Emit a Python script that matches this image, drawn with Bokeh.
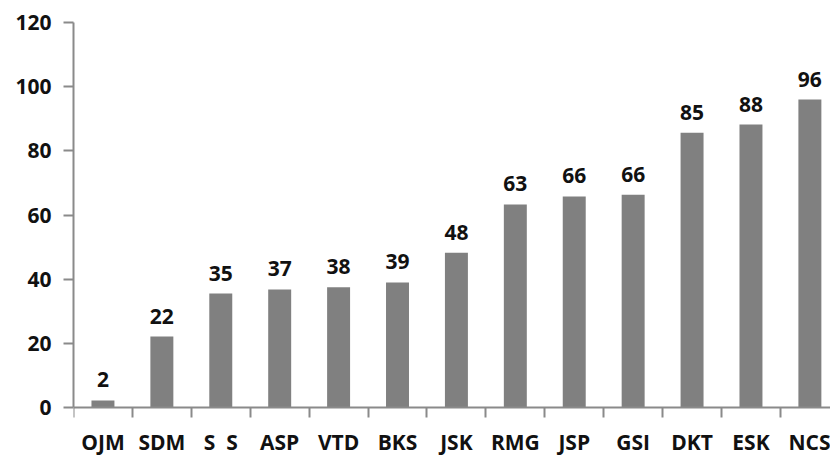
from bokeh.plotting import figure
from bokeh.models import (Range1d, LinearAxis, FixedTicker, ColumnDataSource, LabelSet)
from bokeh.core.properties import value
from bokeh.embed import file_html
from bokeh.resources import INLINE

categories = ["OJM", "SDM", "S\u00a0\u00a0S", "ASP", "VTD", "BKS", "JSK", "RMG", "JSP", "GSI", "DKT", "ESK", "NCS"]
values = [2.2, 22.1, 35.5, 36.8, 37.5, 39.0, 48.2, 63.3, 65.8, 66.3, 85.6, 88.2, 96.0]
labels = ["2", "22", "35", "37", "38", "39", "48", "63", "66", "66", "85", "88", "96"]
y_ticks = [0, 20, 40, 60, 80, 100, 120]

FONT = "Open Sans"
BAR = "#808080"
AXIS = "#8a8a8a"

xs = [i + 0.5 for i in range(len(categories))]
src = ColumnDataSource(dict(x=xs, top=values, lab=labels))

p = figure(width=830, height=457, output_backend="svg", toolbar_location=None,
           x_range=Range1d(0, 12.85), y_range=Range1d(-15.58, 120),
           x_axis_location=None, min_border_left=73, min_border_right=0,
           min_border_top=22, min_border_bottom=0)
p.outline_line_color = None
p.xgrid.visible = False
p.ygrid.visible = False
p.background_fill_color = "white"
p.border_fill_color = "white"

p.vbar(x="x", top="top", bottom=0, width=0.39, source=src, fill_color=BAR, line_color=None)

p.add_layout(LabelSet(x="x", y="top", text="lab", source=src, text_align="center",
                      text_baseline="alphabetic", y_offset=13, text_font=value(FONT),
                      text_font_style="bold", text_font_size="21px", text_color="#111111"))

yax = p.yaxis[0]
yax.ticker = FixedTicker(ticks=y_ticks, minor_ticks=[])
yax.bounds = (0, 120)
yax.axis_line_color = AXIS
yax.axis_line_width = 2
yax.major_tick_line_color = AXIS
yax.major_tick_line_width = 2
yax.major_tick_out = 10
yax.major_tick_in = 0
yax.minor_tick_line_color = None
yax.major_label_standoff = 12
yax.major_label_text_font = FONT
yax.major_label_text_font_style = "bold"
yax.major_label_text_font_size = "21px"
yax.major_label_text_color = "#111111"

xax = LinearAxis(ticker=FixedTicker(ticks=xs, minor_ticks=list(range(len(categories) + 1))),
                 fixed_location=0)
xax.major_label_overrides = {x: c for x, c in zip(xs, categories)}
xax.axis_line_color = AXIS
xax.axis_line_width = 2
xax.major_tick_line_color = None
xax.major_tick_out = 0
xax.major_tick_in = 0
xax.minor_tick_line_color = AXIS
xax.minor_tick_line_width = 2
xax.minor_tick_out = 10
xax.minor_tick_in = 0
xax.major_label_standoff = 10
xax.major_label_text_font = FONT
xax.major_label_text_font_style = "bold"
xax.major_label_text_font_size = "21px"
xax.major_label_text_color = "#111111"
p.add_layout(xax, "below")

open("out.html", "w").write(file_html(p, INLINE))
